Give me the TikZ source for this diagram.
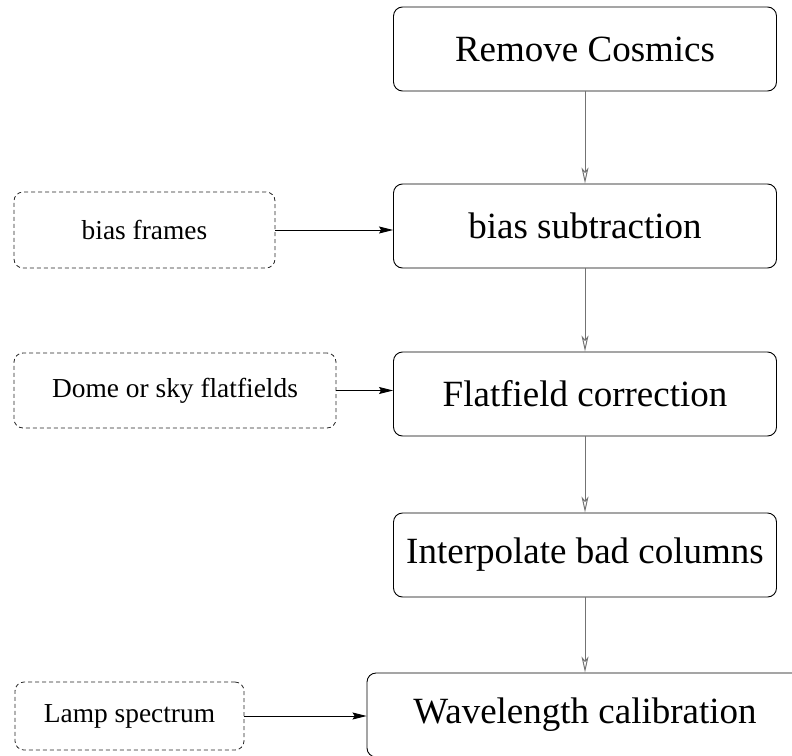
\documentclass[tikz,border=0pt]{standalone}
\usepackage{fontspec}
\setmainfont{Liberation Serif}
\usetikzlibrary{arrows.meta}
\begin{document}
\begin{tikzpicture}[x=1pt,y=-1pt,
  mainbox/.style={draw=black,line width=0.9pt,rounded corners=9pt,minimum width=383pt,minimum height=84pt,inner sep=0pt,font=\fontsize{37}{44}\selectfont},
  inbox/.style={draw=black!85,line width=0.8pt,dash pattern=on 4pt off 3pt,rounded corners=9pt,inner sep=0pt,font=\fontsize{27.4}{32}\selectfont},
  flow/.style={draw=black!55,line width=1pt,-{Stealth[open,length=16pt,width=7pt,inset=4pt,line width=1pt]}},
  feed/.style={draw=black,line width=0.9pt,-{Stealth[length=14pt,width=7pt,inset=2pt]}}]
\useasboundingbox (0,0) rectangle (792,755);
\node[mainbox] (cos) at (585,49) {Remove Cosmics};
\node[mainbox] (bsub) at (585,226) {bias subtraction};
\node[mainbox] (flat) at (585,394) {Flatfield correction};
\node[mainbox] (interp) at (585,555) {Interpolate bad columns};
\node[mainbox,minimum width=436pt] (wave) at (585,715) {Wavelength calibration};
\node[inbox,minimum width=261pt,minimum height=76pt] (bias) at (144.5,230) {bias frames};
\node[inbox,minimum width=322pt,minimum height=75pt] (dome) at (175,390.5) {Dome or sky flatfields};
\node[inbox,minimum width=229pt,minimum height=68pt] (lamp) at (129.5,716) {Lamp spectrum};
\draw[flow] (cos.south) -- (bsub.north);
\draw[flow] (bsub.south) -- (flat.north);
\draw[flow] (flat.south) -- (interp.north);
\draw[flow] (interp.south) -- (wave.north);
\draw[feed] (bias.east) -- (bsub.west |- bias.east);
\draw[feed] (dome.east) -- (flat.west |- dome.east);
\draw[feed] (lamp.east) -- (wave.west |- lamp.east);
\end{tikzpicture}
\end{document}
